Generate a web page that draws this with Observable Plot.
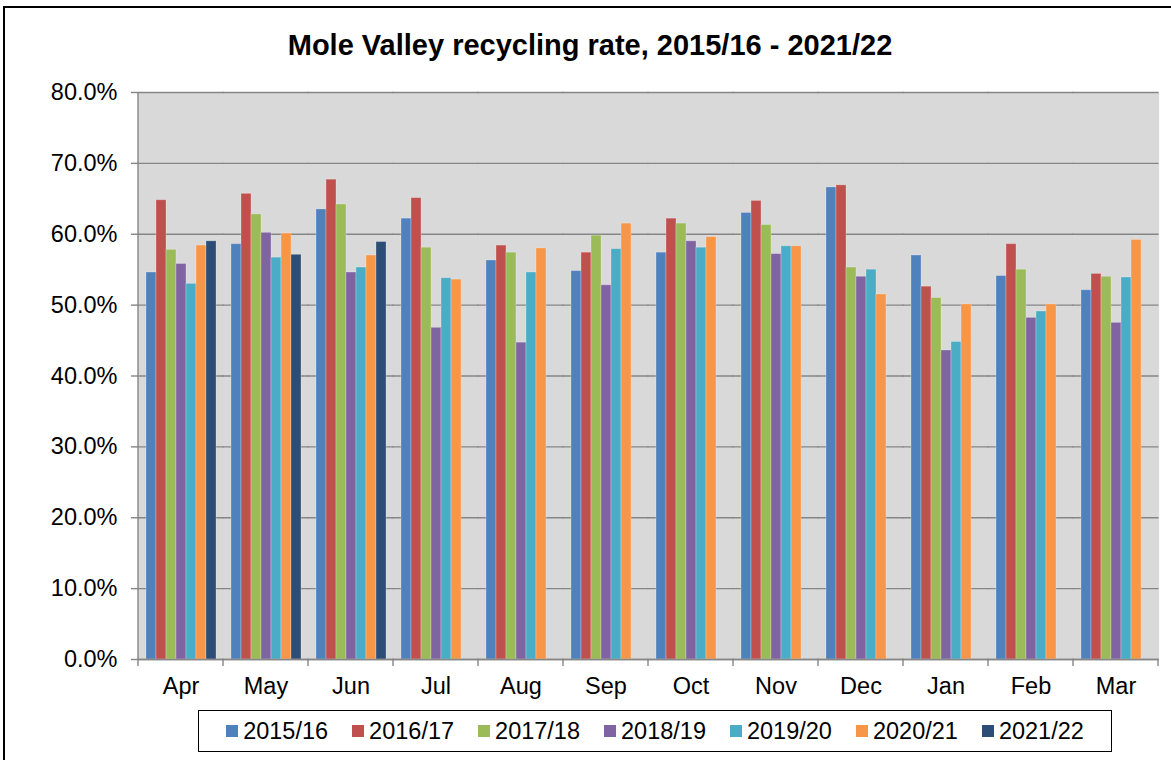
<!DOCTYPE html>
<html>
<head>
<meta charset="utf-8">
<script src="https://cdn.jsdelivr.net/npm/d3@7"></script>
<script src="https://cdn.jsdelivr.net/npm/@observablehq/plot@0.6"></script>
<style>
  html, body { margin: 0; padding: 0; background: #fff; overflow: hidden; }
  body { width: 1171px; height: 760px; position: relative; font-family: "Liberation Sans", Arial, sans-serif; color: #000; }
  #border { position: absolute; left: 3px; top: 6px; width: 1220px; height: 820px; border: 2px solid #000; box-sizing: border-box; }
  #title { position: absolute; left: 0; top: 31px; width: 1180px; text-align: center; font-weight: bold; font-size: 29px; line-height: 29px; white-space: nowrap; }
  #chart { position: absolute; left: 0; top: 70px; }
  #legend { position: absolute; left: 198px; top: 710px; width: 914px; height: 42px; border: 1.5px solid #000; box-sizing: border-box;
            display: flex; align-items: center; justify-content: center; font-size: 23.5px; background: #fff; }
  .item { display: flex; align-items: center; margin: 0 12px; }
  .sw { width: 12px; height: 12px; margin-right: 5px; display: inline-block; }
</style>
</head>
<body>
<div id="border"></div>
<div id="title">Mole Valley recycling rate, 2015/16 - 2021/22</div>
<div id="chart"></div>
<div id="legend"></div>
<script>
// ---- Data ----
const months = ["Apr", "May", "Jun", "Jul", "Aug", "Sep", "Oct", "Nov", "Dec", "Jan", "Feb", "Mar"];
const years = ["2015/16", "2016/17", "2017/18", "2018/19", "2019/20", "2020/21", "2021/22"];
const colors = ["#4F81BD", "#C0504D", "#9BBB59", "#8064A2", "#4BACC6", "#F79646", "#2C4D75"];
const yTicks = [0, 10, 20, 30, 40, 50, 60, 70, 80];

const rate2015 = [54.6, 58.6, 63.5, 62.2, 56.3, 54.8, 57.4, 63.0, 66.6, 57.0, 54.1, 52.1];
const rate2016 = [64.8, 65.7, 67.7, 65.1, 58.4, 57.4, 62.2, 64.7, 66.9, 52.6, 58.6, 54.4];
const rate2017 = [57.8, 62.8, 64.2, 58.1, 57.4, 59.8, 61.5, 61.3, 55.3, 51.0, 55.0, 54.0];
const rate2018 = [55.8, 60.2, 54.6, 46.8, 44.7, 52.8, 59.0, 57.2, 54.0, 43.6, 48.2, 47.5];
const rate2019 = [53.0, 56.7, 55.3, 53.8, 54.6, 57.9, 58.1, 58.3, 55.0, 44.8, 49.1, 53.9];
const rate2020 = [58.4, 60.1, 57.0, 53.6, 58.0, 61.5, 59.6, 58.3, 51.5, 50.1, 50.1, 59.2];
const rate2021 = [59.0, 57.1, 58.9];

const series = [rate2015, rate2016, rate2017, rate2018, rate2019, rate2020, rate2021];
const data = [];
series.forEach((vals, si) => vals.forEach((v, mi) => data.push({ month: months[mi], year: years[si], value: v })));

// ---- Chart ----
const gridColor = "#868686";
const chart = Plot.plot({
  width: 1171,
  height: 629,
  marginLeft: 133,
  marginRight: 9,
  marginTop: 22,
  marginBottom: 40,
  style: { fontFamily: "'Liberation Sans', Arial, sans-serif", fontSize: "23.5px", color: "#000", background: "transparent", overflow: "visible" },
  fx: { domain: months, paddingInner: 0, paddingOuter: 0, label: null },
  x: { domain: years, paddingInner: 0, paddingOuter: 0.72, axis: null },
  y: { domain: [0, 80], label: null },
  color: { domain: years, range: colors },
  marks: [
    Plot.frame({ fill: "#D9D9D9", stroke: null, insetLeft: -0.6, insetRight: -0.6 }),
    Plot.gridY(yTicks, { stroke: gridColor, strokeOpacity: 1, strokeWidth: 1.4, insetLeft: -0.6, insetRight: -0.6 }),
    Plot.barY(data, { fx: "month", x: "year", y: "value", fill: "year", stroke: "#fff", strokeOpacity: 0.25, strokeWidth: 1 }),
    Plot.ruleY([0], { stroke: gridColor, strokeWidth: 1.4, insetLeft: -0.6, insetRight: -0.6 }),
    Plot.axisY(yTicks, { tickSize: 7, tickPadding: 14, stroke: gridColor, strokeWidth: 1.4, fill: "#000", fontSize: 23.5, tickFormat: d => d.toFixed(1) + "%", label: null }),
    Plot.axisFx({ anchor: "bottom", tickSize: 0, tickPadding: 18, fill: "#000", fontSize: 23.5, label: null })
  ]
});
document.getElementById("chart").appendChild(chart);

// Category boundary ticks and the vertical axis line, placed via the plot's own scales
const fx = chart.scale("fx");
const y = chart.scale("y");
const svg = d3.select(chart);
const edges = months.map(m => fx.apply(m)).concat([fx.apply(months[months.length - 1]) + fx.bandwidth]);
const g = svg.append("g").attr("stroke", gridColor).attr("stroke-width", 1.4);
g.selectAll("line.edge").data(edges).join("line")
  .attr("x1", d => d).attr("x2", d => d)
  .attr("y1", y.apply(0)).attr("y2", y.apply(0) + 7);
g.append("line")
  .attr("x1", edges[0]).attr("x2", edges[0])
  .attr("y1", y.apply(80)).attr("y2", y.apply(0));

// ---- Legend ----
const legend = document.getElementById("legend");
years.forEach((yr, i) => {
  const item = document.createElement("div");
  item.className = "item";
  item.innerHTML = `<span class="sw" style="background:${colors[i]}"></span><span>${yr}</span>`;
  legend.appendChild(item);
});
</script>
</body>
</html>
